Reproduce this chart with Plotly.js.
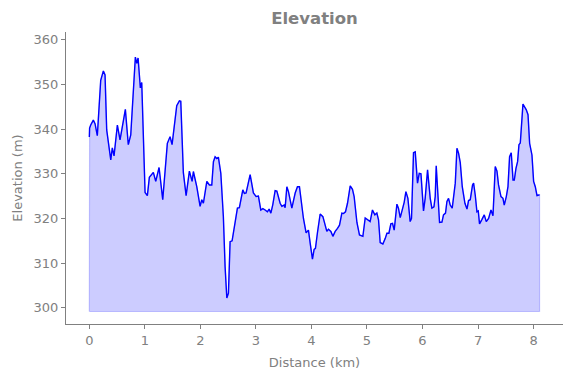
<!DOCTYPE html>
<html>
<head>
<meta charset="utf-8">
<script src="https://cdn.plot.ly/plotly-3.0.1.min.js"></script>
<style>html,body{margin:0;padding:0;background:#fff;}#chart{width:571px;height:378px;}</style>
</head>
<body>
<div id="chart"></div>
<script>
// Distance along route (km)
const distanceKm = [
  0.000, 0.005, 0.025, 0.072, 0.103, 0.144, 0.205, 0.253, 0.283, 0.313,
  0.386, 0.414, 0.445, 0.505, 0.553, 0.613, 0.649, 0.702, 0.746, 0.829,
  0.855, 0.878, 0.919, 0.944, 1.004, 1.045, 1.081, 1.153, 1.196, 1.256,
  1.322, 1.405, 1.454, 1.490, 1.574, 1.622, 1.647, 1.693, 1.743, 1.802,
  1.851, 1.874, 1.935, 1.995, 2.025, 2.054, 2.116, 2.162, 2.205, 2.235,
  2.265, 2.295, 2.324, 2.368, 2.414, 2.445, 2.476, 2.505, 2.535, 2.571,
  2.625, 2.667, 2.702, 2.728, 2.764, 2.793, 2.823, 2.896, 2.955, 3.004,
  3.045, 3.088, 3.125, 3.166, 3.207, 3.238, 3.269, 3.304, 3.346, 3.377,
  3.436, 3.467, 3.508, 3.526, 3.557, 3.586, 3.647, 3.707, 3.748, 3.784,
  3.828, 3.856, 3.904, 3.946, 3.977, 4.018, 4.048, 4.072, 4.108, 4.157,
  4.206, 4.229, 4.277, 4.306, 4.350, 4.386, 4.427, 4.469, 4.505, 4.548,
  4.577, 4.613, 4.649, 4.698, 4.739, 4.769, 4.819, 4.865, 4.926, 4.968,
  5.009, 5.057, 5.099, 5.142, 5.178, 5.208, 5.238, 5.286, 5.328, 5.359,
  5.395, 5.430, 5.460, 5.490, 5.539, 5.567, 5.599, 5.629, 5.670, 5.701,
  5.737, 5.778, 5.802, 5.838, 5.869, 5.910, 5.941, 5.972, 6.018, 6.048,
  6.091, 6.139, 6.169, 6.206, 6.229, 6.247, 6.270, 6.307, 6.350, 6.378,
  6.414, 6.440, 6.469, 6.499, 6.535, 6.590, 6.620, 6.649, 6.680, 6.716,
  6.764, 6.801, 6.829, 6.860, 6.901, 6.920, 6.950, 6.980, 7.004, 7.027,
  7.071, 7.112, 7.148, 7.190, 7.233, 7.269, 7.310, 7.341, 7.369, 7.413,
  7.449, 7.472, 7.509, 7.539, 7.568, 7.598, 7.630, 7.653, 7.683, 7.712,
  7.737, 7.761, 7.809, 7.838, 7.869, 7.900, 7.929, 7.971, 8.001, 8.031,
  8.062, 8.108
];
// Elevation (m)
const elevationM = [
  338.2, 340.2, 340.9, 342.0, 341.2, 338.5, 350.9, 353.0, 352.1, 339.8,
  333.1, 335.8, 334.0, 340.9, 337.6, 341.7, 344.4, 336.5, 338.7, 356.1,
  354.7, 355.9, 349.2, 350.4, 325.8, 325.1, 329.2, 330.3, 328.3, 331.4,
  324.2, 336.8, 338.3, 336.5, 345.2, 346.3, 346.2, 330.3, 325.1, 330.6,
  328.3, 330.5, 327.1, 322.7, 324.2, 323.4, 328.3, 327.5, 327.5, 332.7,
  333.8, 333.4, 333.7, 330.1, 320.4, 309.2, 302.2, 303.3, 314.8, 315.0,
  319.3, 322.3, 322.4, 324.5, 326.4, 325.6, 325.7, 329.8, 325.7, 324.9,
  325.0, 321.9, 322.2, 321.9, 321.5, 322.1, 321.2, 323.1, 326.2, 326.1,
  323.4, 322.7, 323.0, 322.4, 327.1, 326.0, 322.3, 325.7, 327.1, 327.1,
  321.9, 320.0, 316.8, 317.4, 314.5, 310.9, 313.1, 313.3, 316.8, 321.0,
  320.4, 319.3, 317.1, 317.6, 317.1, 316.0, 317.1, 317.8, 318.5, 321.2,
  321.1, 321.5, 323.4, 327.3, 326.5, 324.9, 319.1, 316.3, 316.0, 320.1,
  319.7, 319.3, 321.9, 320.8, 321.2, 319.7, 314.6, 314.3, 315.5, 316.7,
  316.7, 318.8, 318.9, 317.4, 323.2, 322.3, 320.2, 321.6, 323.6, 326.0,
  324.5, 319.3, 320.0, 334.7, 334.9, 327.9, 330.1, 330.0, 321.7, 324.5,
  330.9, 324.5, 322.3, 322.6, 324.9, 331.8, 327.1, 319.1, 319.2, 320.8,
  321.2, 323.8, 324.5, 323.0, 322.3, 327.9, 335.7, 334.6, 332.5, 327.1,
  323.4, 322.1, 324.0, 324.2, 327.5, 327.9, 325.2, 321.5, 321.7, 318.8,
  319.8, 320.8, 319.3, 320.0, 321.9, 320.6, 331.6, 330.6, 327.5, 324.9,
  324.5, 323.0, 324.9, 327.1, 333.8, 334.7, 328.6, 328.6, 331.2, 332.7,
  336.5, 336.9, 345.6, 345.0, 344.3, 343.2, 336.8, 334.2, 328.3, 327.1,
  325.1, 325.3
];
const baseElevation = 299.2;
const xTicks = [0, 1, 2, 3, 4, 5, 6, 7, 8];
const yTicks = [300, 310, 320, 330, 340, 350, 360];

const grey = '#808080';
const font = 'DejaVu Sans, sans-serif';

const n = distanceKm.length;
const polyX = [distanceKm[0]].concat(distanceKm, [distanceKm[n - 1], distanceKm[0]]);
const polyY = [baseElevation].concat(elevationM, [baseElevation, baseElevation]);

const traces = [
  {
    x: polyX, y: polyY, type: 'scatter', mode: 'lines',
    fill: 'toself', fillcolor: 'rgba(0,0,255,0.2)',
    line: {color: 'rgba(0,0,255,0.2)', width: 1.2},
    hoverinfo: 'skip', showlegend: false
  },
  {
    x: distanceKm, y: elevationM, type: 'scatter', mode: 'lines',
    line: {color: '#0000ff', width: 1.4},
    showlegend: false
  }
];

const layout = {
  width: 571, height: 378,
  margin: {l: 66, r: 8, t: 32, b: 54},
  paper_bgcolor: '#ffffff', plot_bgcolor: '#ffffff',
  font: {family: font, color: grey, size: 13},
  title: {
    text: 'Elevation', font: {family: font, size: 16.5, color: grey, weight: 'bold'},
    x: 0.5, xref: 'paper', y: 1 - 18 / 378, yref: 'container', yanchor: 'middle'
  },
  xaxis: {
    range: [-0.42, 8.53], tickvals: xTicks, ticktext: xTicks.map(String),
    showgrid: false, zeroline: false, showline: true, linecolor: grey, linewidth: 1,
    ticks: 'outside', ticklen: 4, tickwidth: 1, tickcolor: grey,
    tickfont: {family: font, size: 13, color: grey},
    title: {text: 'Distance (km)', font: {family: font, size: 13, color: grey}, standoff: 11}
  },
  yaxis: {
    range: [296.4, 361.7], tickvals: yTicks, ticktext: yTicks.map(String),
    showgrid: false, zeroline: false, showline: true, linecolor: grey, linewidth: 1,
    ticks: 'outside', ticklen: 4, tickwidth: 1, tickcolor: grey,
    tickfont: {family: font, size: 13, color: grey},
    title: {text: 'Elevation (m)', font: {family: font, size: 13, color: grey}, standoff: 8}
  }
};

Plotly.newPlot('chart', traces, layout, {displayModeBar: false, staticPlot: true});
</script>
</body>
</html>
